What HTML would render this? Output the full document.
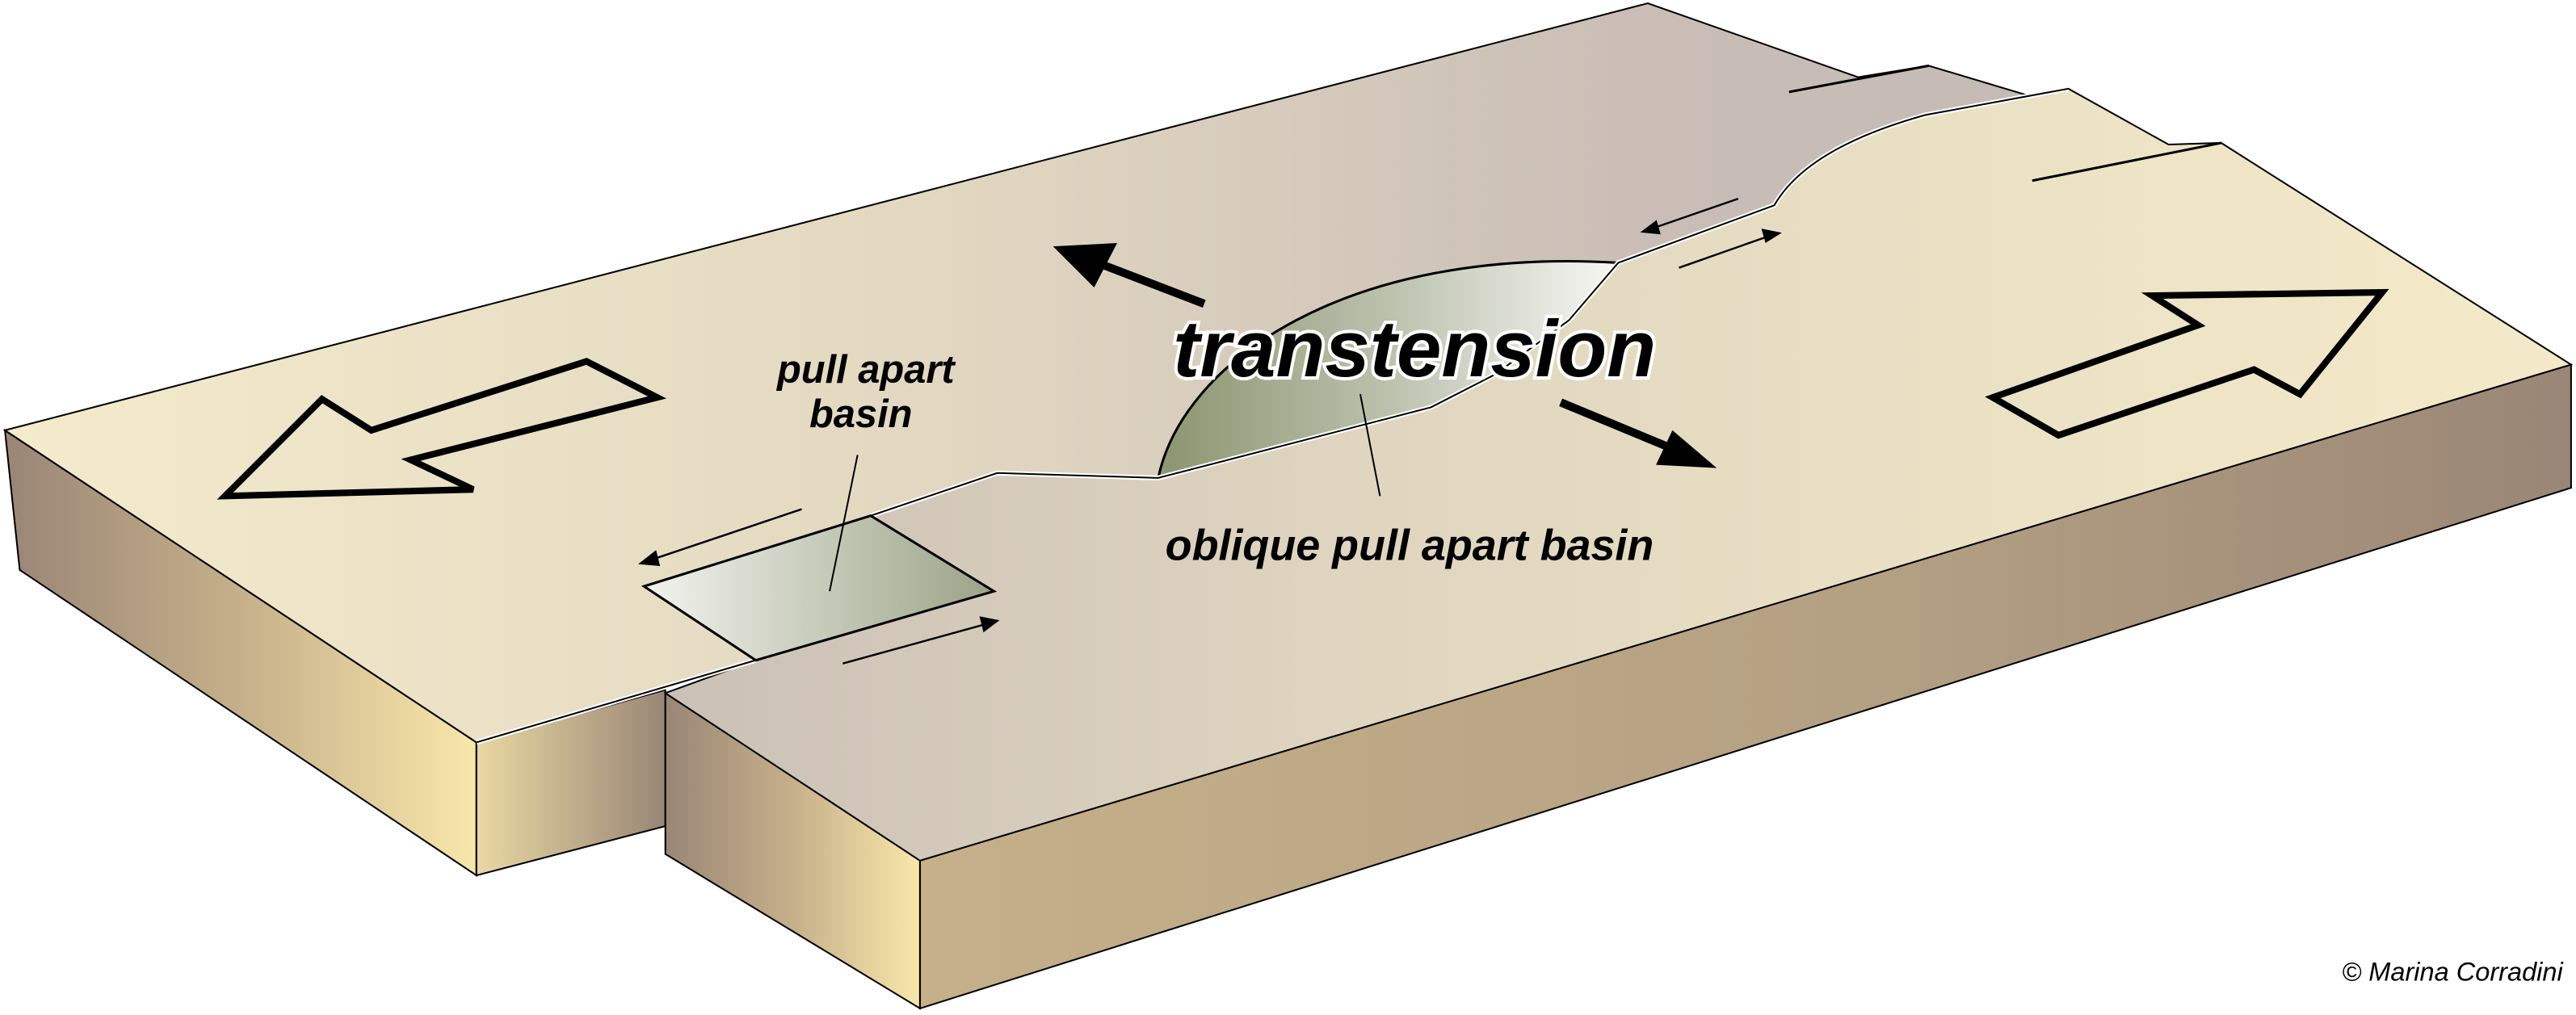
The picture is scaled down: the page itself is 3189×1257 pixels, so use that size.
<!DOCTYPE html>
<html><head><meta charset="utf-8"><style>
html,body{margin:0;padding:0;background:#fff;}
svg{display:block;}
</style></head><body>
<svg width="3189" height="1257" viewBox="0 0 1568 618" preserveAspectRatio="none" xmlns="http://www.w3.org/2000/svg">
<defs>
<linearGradient id="gN" gradientUnits="userSpaceOnUse" x1="0" y1="0" x2="1260" y2="0">
<stop offset="0" stop-color="#f4ebcc"/><stop offset="0.45" stop-color="#e2d8c1"/><stop offset="0.8" stop-color="#c9bdb6"/><stop offset="1" stop-color="#c6bab6"/></linearGradient>
<linearGradient id="gS" gradientUnits="userSpaceOnUse" x1="400" y1="0" x2="1500" y2="0">
<stop offset="0" stop-color="#cbc0b6"/><stop offset="0.4" stop-color="#e0d6c0"/><stop offset="1" stop-color="#f3e9c8"/></linearGradient>
<linearGradient id="gL" gradientUnits="userSpaceOnUse" x1="5" y1="0" x2="290" y2="0">
<stop offset="0" stop-color="#9a8676"/><stop offset="0.5" stop-color="#c6b08a"/><stop offset="1" stop-color="#f8e7aa"/></linearGradient>
<linearGradient id="gAF" gradientUnits="userSpaceOnUse" x1="290" y1="0" x2="405" y2="0">
<stop offset="0" stop-color="#e9d8a3"/><stop offset="1" stop-color="#9a8676"/></linearGradient>
<linearGradient id="gBL" gradientUnits="userSpaceOnUse" x1="405" y1="0" x2="560" y2="0">
<stop offset="0" stop-color="#9a8676"/><stop offset="0.5" stop-color="#c6b08a"/><stop offset="1" stop-color="#f8e7aa"/></linearGradient>
<linearGradient id="gBF" gradientUnits="userSpaceOnUse" x1="560" y1="0" x2="1565" y2="0">
<stop offset="0" stop-color="#c6b08a"/><stop offset="0.6" stop-color="#b39f82"/><stop offset="1" stop-color="#9a8676"/></linearGradient>
<linearGradient id="gLens" gradientUnits="userSpaceOnUse" x1="705" y1="0" x2="985" y2="0">
<stop offset="0" stop-color="#8c9570"/><stop offset="0.5" stop-color="#bcc1ad"/><stop offset="1" stop-color="#f7f7f4"/></linearGradient>
<linearGradient id="gBas" gradientUnits="userSpaceOnUse" x1="392" y1="0" x2="605" y2="0">
<stop offset="0" stop-color="#f3f3ee"/><stop offset="1" stop-color="#9ba387"/></linearGradient>
</defs>

<polygon points="3,262 290,452 290,533 12,347" fill="url(#gL)" stroke="#000" stroke-width="1"/>
<polygon points="290,452 405,420 405,503 290,533" fill="url(#gAF)" stroke="#000" stroke-width="1"/>
<polygon points="405,422 560,524 560,614 405,520" fill="url(#gBL)" stroke="#000" stroke-width="1"/>
<polygon points="560,524 1565,222 1565,297 560,614" fill="url(#gBF)" stroke="#000" stroke-width="1"/>

<path d="M3,262 L1003,2 L1131,47 L1174,40 L1234,58 L1259,54 L1172,70 Q1100,90 1080,125 L985,160 C820,150 720,220 705,291 L607,288 L530,314 L392,357 L460,402 L290,452 Z" fill="url(#gN)" stroke="#000" stroke-width="1"/>
<path d="M405,422 L460,402 L605,360 L530,314 L607,288 L705,291 L871,248 L910,228 L955,195 L985,160 L1080,125 Q1100,90 1172,70 L1259,54 L1320,88 L1352,87 L1565,222 L560,524 Z" fill="url(#gS)" stroke="#000" stroke-width="1"/>
<line x1="1089" y1="56" x2="1174" y2="40" stroke="#000" stroke-width="1.5"/>
<line x1="1237" y1="110" x2="1352" y2="87" stroke="#000" stroke-width="1.5"/>

<path d="M705,291 C720,220 820,150 985,160 L955,195 L910,228 L871,248 Z" fill="url(#gLens)" stroke="#000" stroke-width="1.5"/>
<path d="M290,452 L460,402 M530,314 L607,288 L705,291 L871,248 L910,228 L955,195 L985,160 L1080,125 Q1100,90 1172,70 L1259,54" fill="none" stroke="#fff" stroke-width="3"/>
<path d="M290,452 L460,402 M530,314 L607,288 L705,291 L871,248 L910,228 L955,195 L985,160 L1080,125 Q1100,90 1172,70 L1259,54" fill="none" stroke="#000" stroke-width="1"/>
<polygon points="392,357 530,314 605,360 460,402" fill="url(#gBas)" stroke="#000" stroke-width="1.5"/>

<polygon points="137,302 196,243 226,262 357,220 400,242 250,280 288,298" fill="none" stroke="#000" stroke-width="4"/>
<polygon points="1213,242 1338,198 1310,180 1450,178 1400,240 1372,225 1253,265" fill="none" stroke="#000" stroke-width="4"/>

<line x1="733" y1="185" x2="668" y2="160" stroke="#000" stroke-width="5"/>
<polygon points="641,150 680,148 666,175" fill="#000"/>
<line x1="950" y1="245" x2="1020" y2="274" stroke="#000" stroke-width="5"/>
<polygon points="1045,285 1018,262 1008,283" fill="#000"/>

<g stroke="#000" stroke-width="1.2" fill="#000">
<line x1="488" y1="310" x2="396" y2="341"/><polygon points="390,343 399,336 401,344"/>
<line x1="513" y1="404" x2="600" y2="380"/><polygon points="607,378 597,376 599,384"/>
<line x1="1058" y1="121" x2="1006" y2="139"/><polygon points="1000,141 1008,135 1010,142"/>
<line x1="1022" y1="163" x2="1076" y2="144"/><polygon points="1083,142 1073,140 1075,147"/>
</g>
<line x1="522" y1="277" x2="505" y2="360" stroke="#000" stroke-width="1"/>
<line x1="828" y1="240" x2="840" y2="302" stroke="#000" stroke-width="1"/>

<g font-family="Liberation Sans, sans-serif" font-style="italic" font-weight="bold" fill="#000" text-anchor="middle">
<text x="861" y="229" font-size="49" stroke="#fff" stroke-width="4" paint-order="stroke">transtension</text>
<text x="527" y="233" font-size="24">pull apart</text>
<text x="524" y="260" font-size="24">basin</text>
<text x="858" y="341" font-size="26.5">oblique pull apart basin</text>
</g>
<text x="1560" y="597" font-family="Liberation Sans, sans-serif" font-style="italic" font-size="16" text-anchor="end" fill="#000">© Marina Corradini</text>
</svg>
</body></html>
